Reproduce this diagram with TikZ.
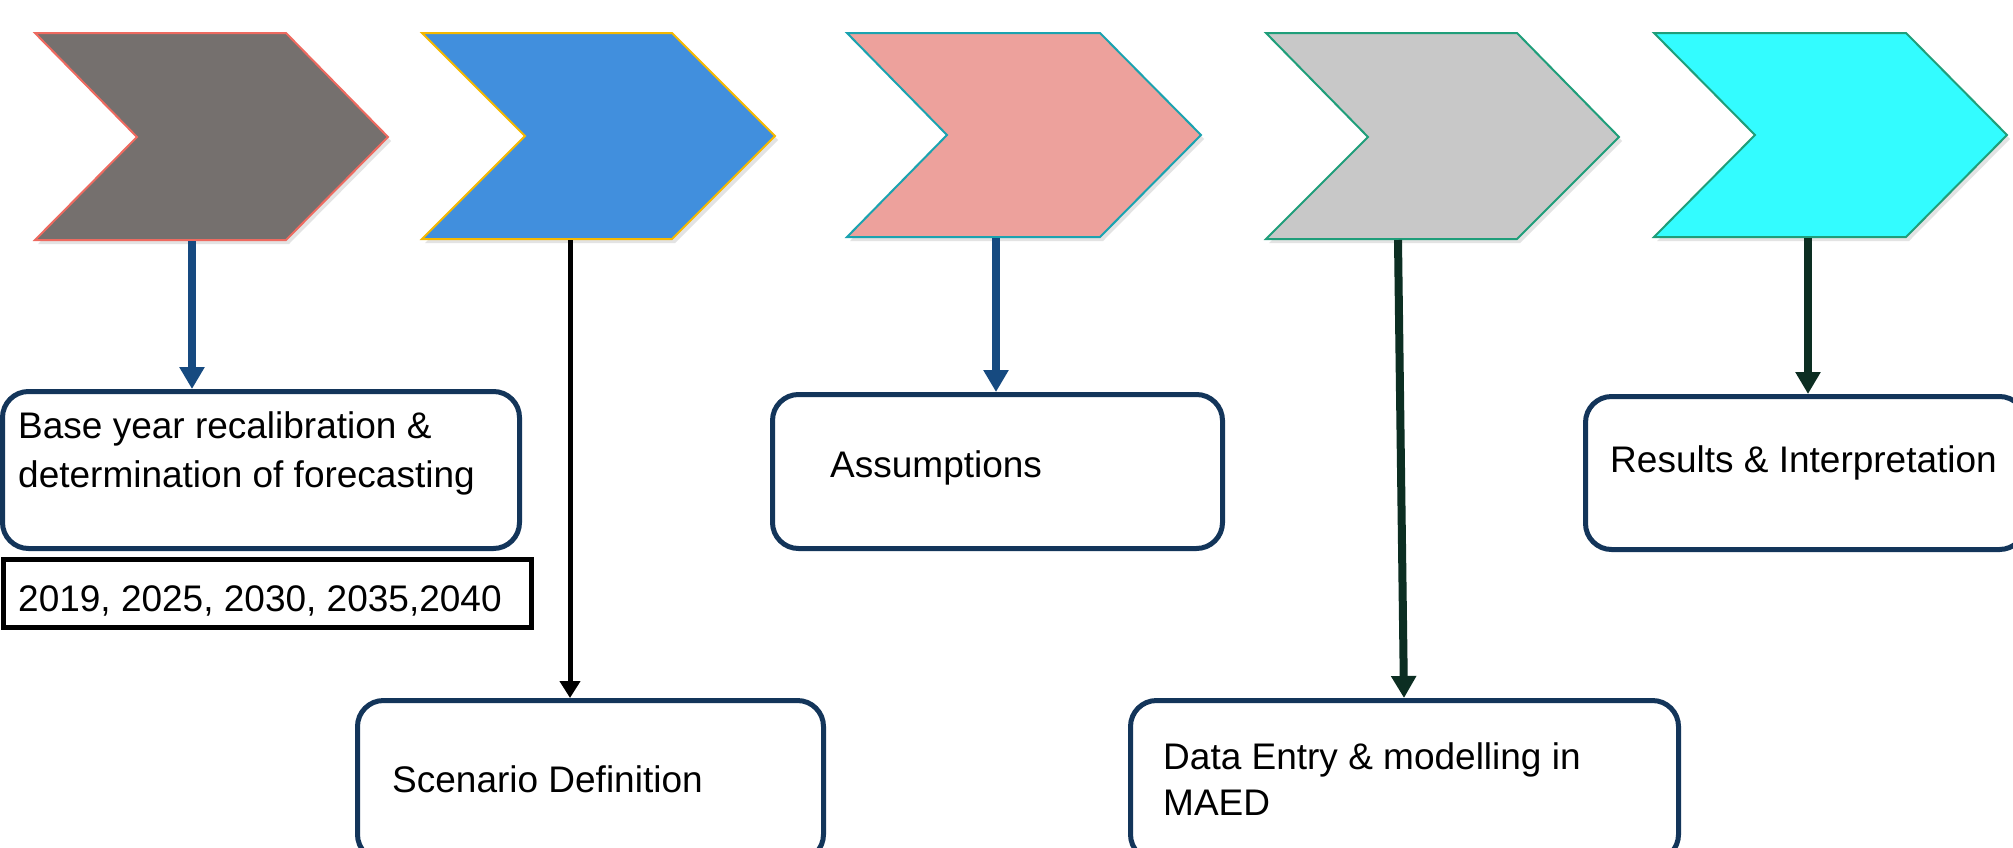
\documentclass[tikz,border=0pt]{standalone}
\usepackage{fontspec}
\setmainfont{Liberation Sans}
\usetikzlibrary{arrows.meta,shadows}
\definecolor{chAfill}{HTML}{75706E}
\definecolor{chAline}{HTML}{EE6A60}
\definecolor{chBfill}{HTML}{418FDD}
\definecolor{chBline}{HTML}{F5B800}
\definecolor{chCfill}{HTML}{EDA19C}
\definecolor{chCline}{HTML}{1AA3B0}
\definecolor{chDfill}{HTML}{C8C8C8}
\definecolor{chDline}{HTML}{1F9E7A}
\definecolor{chEfill}{HTML}{33FCFF}
\definecolor{chEline}{HTML}{1F9E7A}
\definecolor{navy}{HTML}{13355A}
\definecolor{arrblue}{HTML}{164A80}
\definecolor{arrgreen}{HTML}{0C2E22}
\begin{document}
\begin{tikzpicture}[x=1pt,y=-1pt,
  chev/.style={line width=2pt, line join=miter, drop shadow={opacity=0.22, shadow xshift=3pt, shadow yshift=-4pt}},
  box/.style={draw=navy, line width=5pt, rounded corners=26pt, fill=white, anchor=north west, inner sep=0pt},
  yrbox/.style={draw=black, line width=5pt, fill=white, anchor=north west, inner sep=0pt},
  lbl/.style={anchor=base west, inner sep=0pt, font=\fontsize{37}{44}\selectfont, text=black},
  conn/.style={line width=8pt, -{Triangle[width=24pt,length=22pt]}},
  connthin/.style={line width=5pt, -{Triangle[width=20pt,length=17pt]}}
]
\useasboundingbox (0,0) rectangle (2013,847);
\fill[white] (0,0) rectangle (2013,847);

% chevrons
\filldraw[chev, fill=chAfill, draw=chAline] (35,33) -- (286,33) -- (388,137) -- (286,240) -- (35,240) -- (137,137) -- cycle;
\filldraw[chev, fill=chBfill, draw=chBline] (422,33) -- (672,33) -- (775,136) -- (672,239) -- (422,239) -- (525,136) -- cycle;
\filldraw[chev, fill=chCfill, draw=chCline] (847,33) -- (1100,33) -- (1201,135) -- (1100,237) -- (847,237) -- (947,135) -- cycle;
\filldraw[chev, fill=chDfill, draw=chDline] (1266,33) -- (1517,33) -- (1619,137) -- (1517,239) -- (1266,239) -- (1368,137) -- cycle;
\filldraw[chev, fill=chEfill, draw=chEline] (1654,33) -- (1906,33) -- (2007,135) -- (1906,237) -- (1654,237) -- (1755,135) -- cycle;

\coordinate (c1) at (192,241);
\coordinate (c2) at (570,240);
\coordinate (c3) at (996,238);
\coordinate (c4) at (1398,240);
\coordinate (c5) at (1808,238);

% boxes
\node[box, minimum width=517pt, minimum height=157pt] (b1) at (0,389) {};
\node[yrbox, minimum width=528pt, minimum height=68pt] (yr) at (1,557) {};
\node[box, minimum width=466pt, minimum height=160pt] (b2) at (355,698) {};
\node[box, minimum width=450pt, minimum height=154pt] (b3) at (770,392) {};
\node[box, minimum width=548pt, minimum height=160pt] (b4) at (1128,698) {};
\node[box, minimum width=440pt, minimum height=153pt] (b5) at (1583,394) {};

% texts
\node[lbl] (t1a) at (18,438) {Base year recalibration \&};
\node[lbl] (t1b) at (18,487) {determination of forecasting};
\node[lbl] (tyr) at (18,611) {2019, 2025, 2030, 2035,2040};
\node[lbl] (t2) at (392,792) {Scenario Definition};
\node[lbl] (t3) at (830,477) {Assumptions};
\node[lbl] (t4a) at (1163,769) {Data Entry \& modelling in};
\node[lbl] (t4b) at (1163,815) {MAED};
\node[lbl] (t5) at (1610,472) {Results \& Interpretation};

% connectors
\coordinate (e4) at ([xshift=276pt]b4.north west);
\draw[conn, arrblue] (c1) -- (c1 |- b1.north);
\draw[connthin, black] (c2) -- (c2 |- b2.north);
\draw[conn, arrblue] (c3) -- (c3 |- b3.north);
\draw[conn, arrgreen] (c4) -- (e4);
\draw[conn, arrgreen] (c5) -- (c5 |- b5.north);
\end{tikzpicture}
\end{document}
